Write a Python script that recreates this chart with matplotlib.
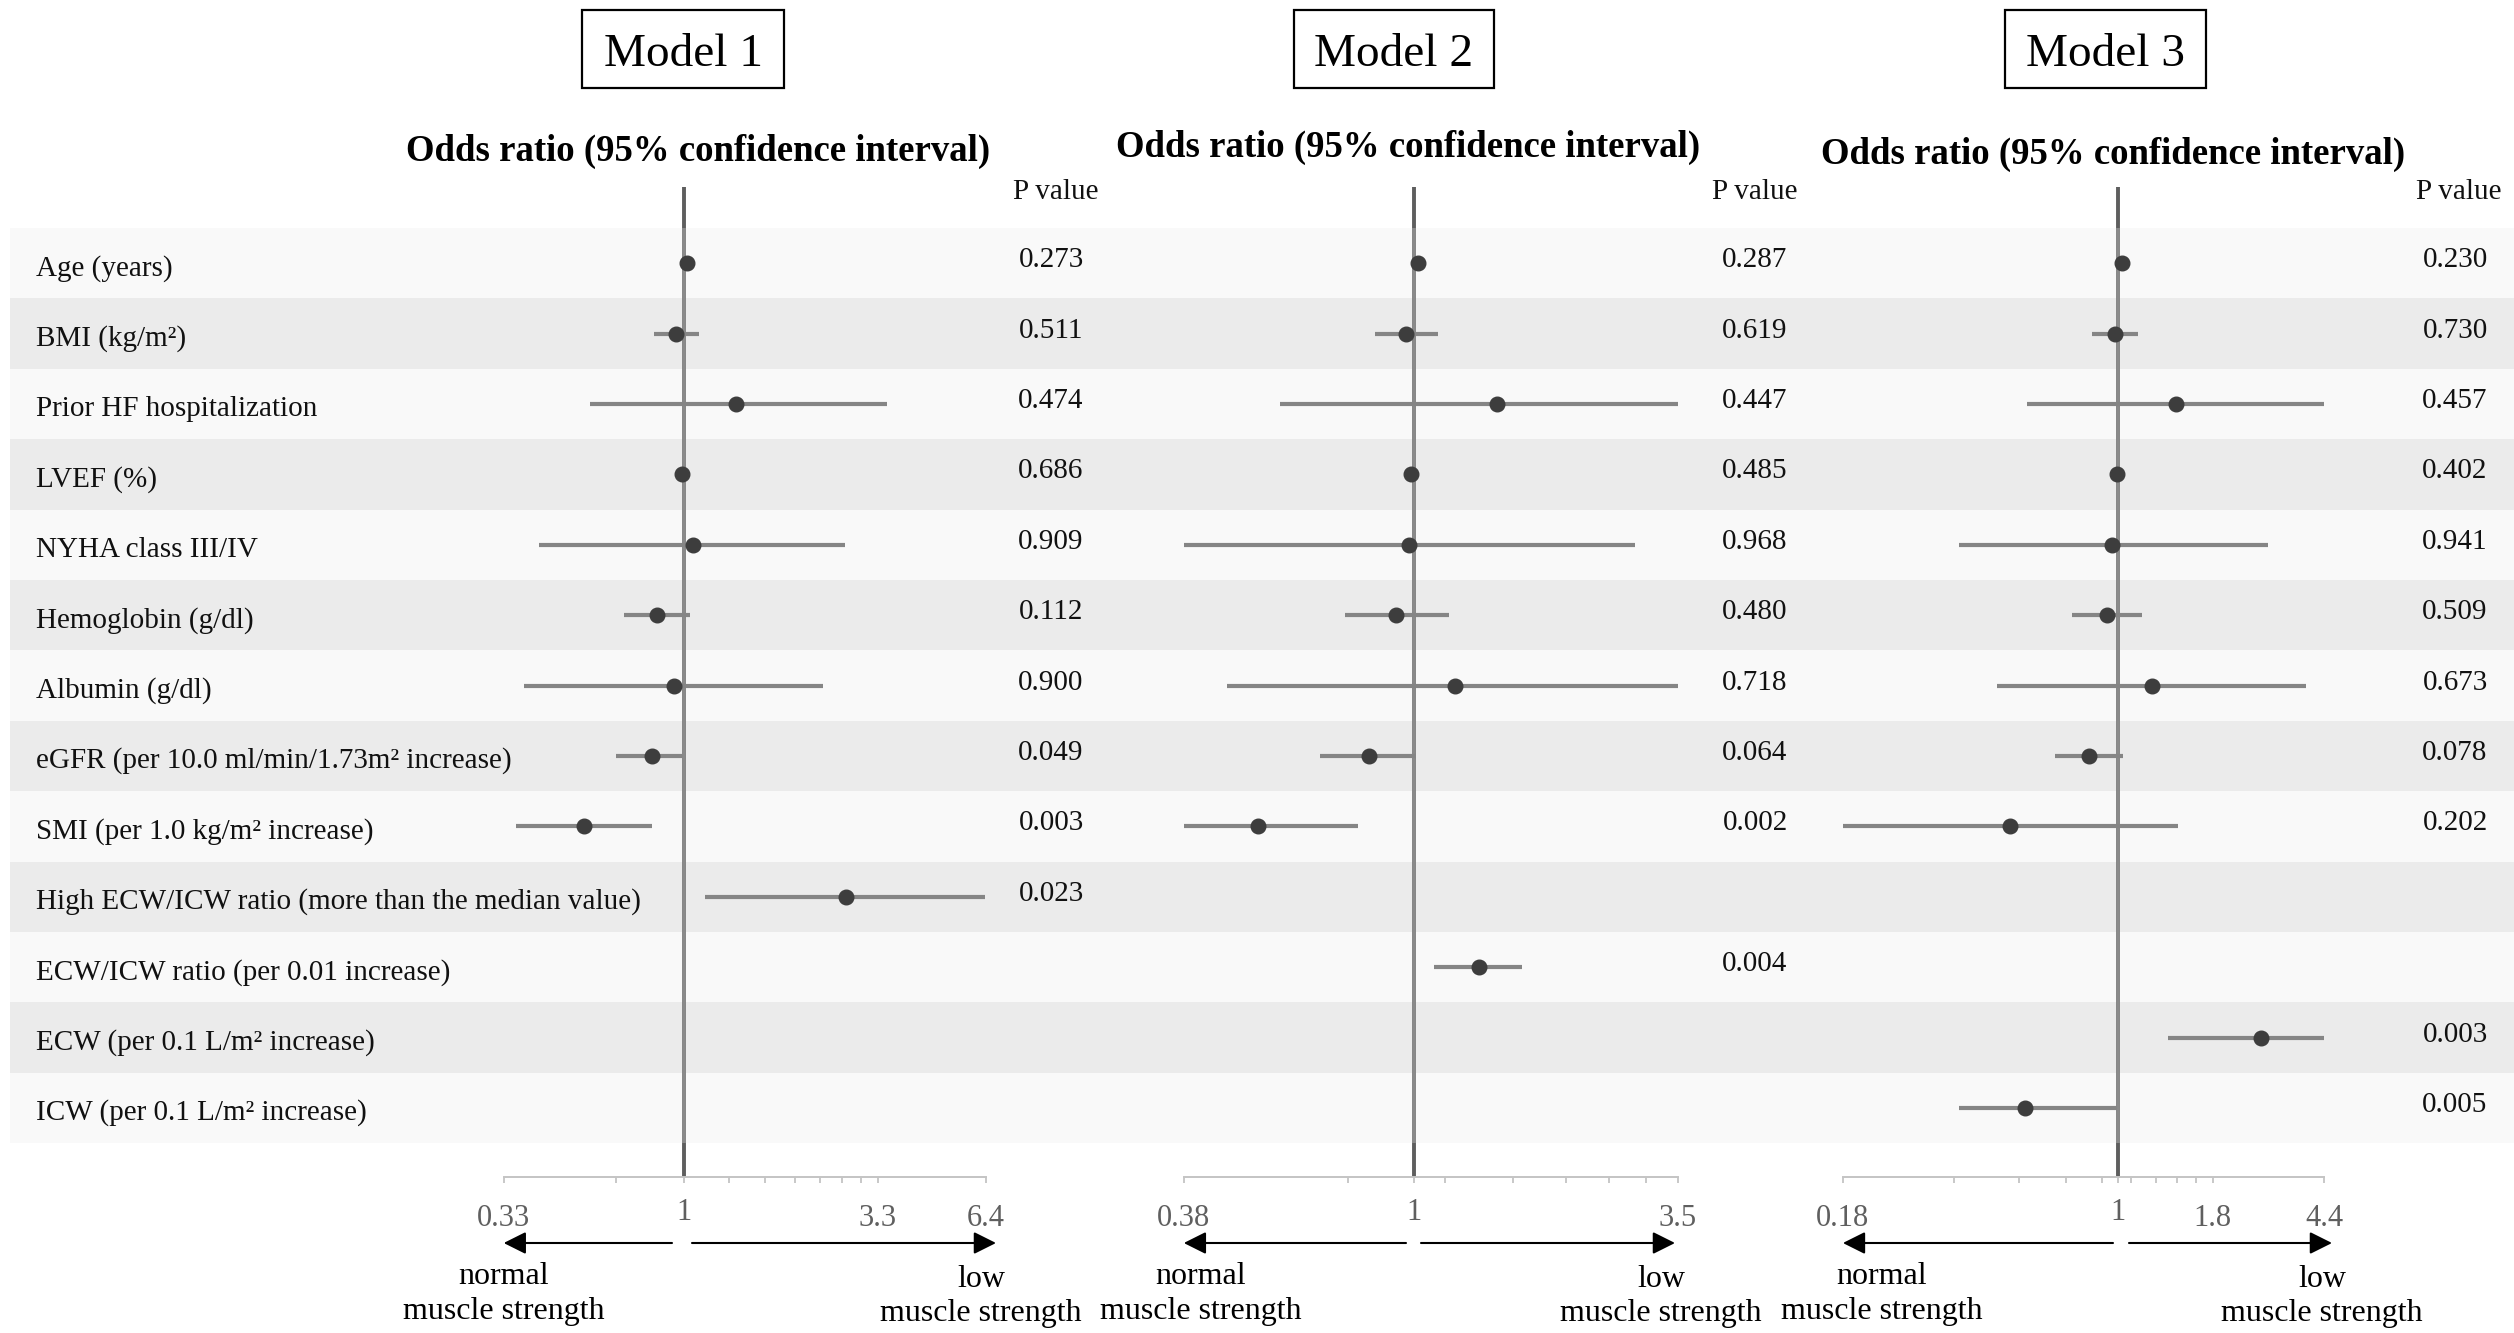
import numpy as np
import matplotlib
matplotlib.use('Agg')
import matplotlib.pyplot as plt
from matplotlib.patches import Rectangle
from matplotlib.ticker import NullFormatter
from matplotlib.transforms import ScaledTranslation

plt.rcParams['font.family'] = ['Liberation Serif', 'DejaVu Serif']

W, H, DPI = 2514, 1333, 100
nan = np.nan

LABELS = [
    'Age (years)',
    'BMI (kg/m²)',
    'Prior HF hospitalization',
    'LVEF (%)',
    'NYHA class III/IV',
    'Hemoglobin (g/dl)',
    'Albumin (g/dl)',
    'eGFR (per 10.0 ml/min/1.73m² increase)',
    'SMI (per 1.0 kg/m² increase)',
    'High ECW/ICW ratio (more than the median value)',
    'ECW/ICW ratio (per 0.01 increase)',
    'ECW (per 0.1 L/m² increase)',
    'ICW (per 0.1 L/m² increase)',
]

# odds ratio, 95% CI, p value per model (nan / '' = not in the model)
M1_OR = [1.02, 0.95, 1.38, 0.99, 1.06, 0.85, 0.94, 0.82, 0.54, 2.71, nan, nan, nan]
M1_LO = [0.99, 0.83, 0.56, 0.98, 0.41, 0.69, 0.375, 0.66, 0.355, 1.14, nan, nan, nan]
M1_HI = [1.05, 1.10, 3.49, 1.01, 2.70, 1.04, 2.36, 0.99, 0.82, 6.39, nan, nan, nan]
M1_P = ['0.273', '0.511', '0.474', '0.686', '0.909', '0.112', '0.900', '0.049', '0.003', '0.023', '', '', '']

M2_OR = [1.02, 0.97, 1.42, 0.99, 0.98, 0.93, 1.19, 0.83, 0.52, nan, 1.32, nan, nan]
M2_LO = [1.00, 0.85, 0.57, 0.98, 0.38, 0.75, 0.456, 0.674, 0.38, nan, 1.09, nan, nan]
M2_HI = [1.04, 1.11, 3.04, 1.01, 2.54, 1.16, 3.04, 1.01, 0.79, nan, 1.58, nan, nan]
M2_P = ['0.287', '0.619', '0.447', '0.485', '0.968', '0.480', '0.718', '0.064', '0.002', '', '0.004', '', '']

M3_OR = [1.02, 0.98, 1.43, 0.99, 0.96, 0.93, 1.23, 0.83, 0.51, nan, nan, 2.43, 0.56]
M3_LO = [1.00, 0.85, 0.565, 0.98, 0.37, 0.75, 0.47, 0.674, 0.18, nan, nan, 1.36, 0.37]
M3_HI = [1.04, 1.13, 3.59, 1.01, 2.53, 1.16, 3.22, 1.03, 1.45, nan, nan, 3.67, 0.99]
M3_P = ['0.230', '0.730', '0.457', '0.402', '0.941', '0.509', '0.673', '0.078', '0.202', '', '', '0.003', '0.005']

# x axes (log): limits, labelled ticks and unlabelled ticks
M1_LIM = (0.33, 6.4)
M1_TICKS = [0.33, 1, 3.3, 6.4]
M1_TICKLABELS = ['0.33', '1', '3.3', '6.4']
M1_MINOR = [0.66, 1.32, 1.65, 1.98, 2.31, 2.64, 2.97]

M2_LIM = (0.38, 3.04)
M2_TICKS = [0.38, 1, 3.04]
M2_TICKLABELS = ['0.38', '1', '3.5']
M2_MINOR = [0.76, 1.14, 1.52, 1.90, 2.28, 2.66]

M3_LIM = (0.18, 3.6)
M3_TICKS = [0.18, 1, 1.8, 3.6]
M3_TICKLABELS = ['0.18', '1', '1.8', '4.4']
M3_MINOR = [0.36, 0.54, 0.72, 0.90, 1.08, 1.26, 1.44, 1.62]

TITLES = ['Model 1', 'Model 2', 'Model 3']

# ---- layout (pixels on the 2514x1333 canvas) ----
ROW_TOP, ROW_H = 228, 70.4
REF_TOP, AXIS_Y = 187, 1177
BAND_X0 = 10
LIGHT, DARK = '#f9f9f9', '#ebebeb'
GEOM = [
    # axis x0, x1 | box x0, x1 | header x | p column x | p header x | arrow tails/tips | text x
    dict(x0=503.7, x1=985.6, box=(582, 784), head=698, hy=161, pcol=1051, phead=1056,
         lt=672, rt=692, rtip=996, nx=504, lx=981),
    dict(x0=1183.8, x1=1677.5, box=(1293.5, 1494.4), head=1408, hy=157, pcol=1755, phead=1755,
         lt=1406, rt=1421, rtip=1675, nx=1201, lx=1661),
    dict(x0=1842.9, x1=2324.3, box=(2004.7, 2206.3), head=2113.5, hy=164, pcol=2455, phead=2459,
         lt=2113, rt=2129, rtip=2332, nx=1882, lx=2322),
]
MODELS = [
    (M1_OR, M1_LO, M1_HI, M1_P, M1_LIM, M1_TICKS, M1_TICKLABELS, M1_MINOR),
    (M2_OR, M2_LO, M2_HI, M2_P, M2_LIM, M2_TICKS, M2_TICKLABELS, M2_MINOR),
    (M3_OR, M3_LO, M3_HI, M3_P, M3_LIM, M3_TICKS, M3_TICKLABELS, M3_MINOR),
]

n = len(LABELS)
fig = plt.figure(figsize=(W / DPI, H / DPI), dpi=DPI)

# alternating row bands + row labels
bg = fig.add_axes([BAND_X0 / W, 1 - (ROW_TOP + n * ROW_H) / H, (W - BAND_X0) / W, n * ROW_H / H])
bg.set_xlim(0, 1); bg.set_ylim(n, 0); bg.axis('off')
bg.set_zorder(0)
for i, lab in enumerate(LABELS):
    bg.axhspan(i, i + 1, color=LIGHT if i % 2 == 0 else DARK, lw=0)
    bg.text((36.5 - BAND_X0) / (W - BAND_X0), i + 0.5 + 12 / ROW_H, lab, fontsize=21,
            va='baseline', ha='left', color='#111111')

# overlay in pixel coordinates for headers, p values and arrows
ov = fig.add_axes([0, 0, 1, 1])
ov.set_xlim(0, W); ov.set_ylim(H, 0); ov.axis('off')
ov.set_zorder(5)

ytop = (REF_TOP - ROW_TOP) / ROW_H
ybot = (AXIS_Y - ROW_TOP) / ROW_H
rows = np.arange(n) + 0.5

for (orr, lo, hi, pv, lim, ticks, ticklabs, minor), g, title in zip(MODELS, GEOM, TITLES):
    ax = fig.add_axes([g['x0'] / W, 1 - AXIS_Y / H, (g['x1'] - g['x0']) / W, (AXIS_Y - REF_TOP) / H])
    ax.set_zorder(2)
    ax.patch.set_visible(False)
    ax.set_xscale('log')
    ax.set_xlim(*lim)
    ax.set_ylim(ybot, ytop)
    for s in ['top', 'left', 'right']:
        ax.spines[s].set_visible(False)
    ax.spines['bottom'].set_color('#c4c4c4')
    ax.spines['bottom'].set_linewidth(1.4)
    ax.set_xticks(ticks, labels=ticklabs)
    ax.set_xticks(minor, minor=True)
    ax.xaxis.set_minor_formatter(NullFormatter())
    ax.tick_params(axis='x', which='both', direction='out', length=4.5, width=1.3,
                   color='#c4c4c4', pad=15, labelsize=22, labelcolor='#5f5f5f')
    ax.tick_params(axis='y', left=False, labelleft=False)
    for t in ax.get_xticklabels():
        if t.get_text() == '1':
            t.set_transform(t.get_transform() + ScaledTranslation(0, 6 / DPI, fig.dpi_scale_trans))

    # reference line at OR = 1
    ax.axvline(1, color='#5e5e5e', lw=2.8, zorder=2)
    ax.vlines(1, 0, n, color='#8a8a8a', lw=2.8, zorder=2)

    orr, lo, hi = np.array(orr), np.array(lo), np.array(hi)
    ok = ~np.isnan(orr)
    ax.hlines(rows[ok], lo[ok], hi[ok], color='#858585', lw=3, zorder=3)
    ax.plot(orr[ok], rows[ok], 'o', color='#3d3d3d', ms=10.5, zorder=4, clip_on=False)

    # p values
    ov.text(g['phead'], 199, 'P value', fontsize=21, ha='center', va='baseline', color='#111111')
    for i, p in enumerate(pv):
        if p:
            ov.text(g['pcol'], ROW_TOP + (i + 0.5) * ROW_H + 4, p, fontsize=21,
                    ha='center', va='baseline', color='#111111')

    # headers
    bx0, bx1 = g['box']
    ov.add_patch(Rectangle((bx0, 10), bx1 - bx0, 78, fill=False, ec='black', lw=1.6))
    ov.text((bx0 + bx1) / 2, 66, title, fontsize=34, ha='center', va='baseline')
    ov.text(g['head'], g['hy'], 'Odds ratio (95% confidence interval)', fontsize=26.5,
            fontweight='bold', ha='center', va='baseline')

    # direction arrows
    ay = 1243
    aprops = dict(arrowstyle='-|>,head_length=0.8,head_width=0.4', color='black', lw=1.5,
                  mutation_scale=17, shrinkA=0, shrinkB=0)
    ov.annotate('', xy=(g['x0'], ay), xytext=(g['lt'], ay), arrowprops=aprops)
    ov.annotate('', xy=(g['rtip'], ay), xytext=(g['rt'], ay), arrowprops=aprops)
    ov.text(g['nx'], 1284, 'normal', fontsize=23, ha='center', va='baseline')
    ov.text(g['nx'], 1319, 'muscle strength', fontsize=23, ha='center', va='baseline')
    ov.text(g['lx'], 1287, 'low', fontsize=23, ha='center', va='baseline')
    ov.text(g['lx'], 1321, 'muscle strength', fontsize=23, ha='center', va='baseline')

fig.savefig('out.png', dpi=DPI)
